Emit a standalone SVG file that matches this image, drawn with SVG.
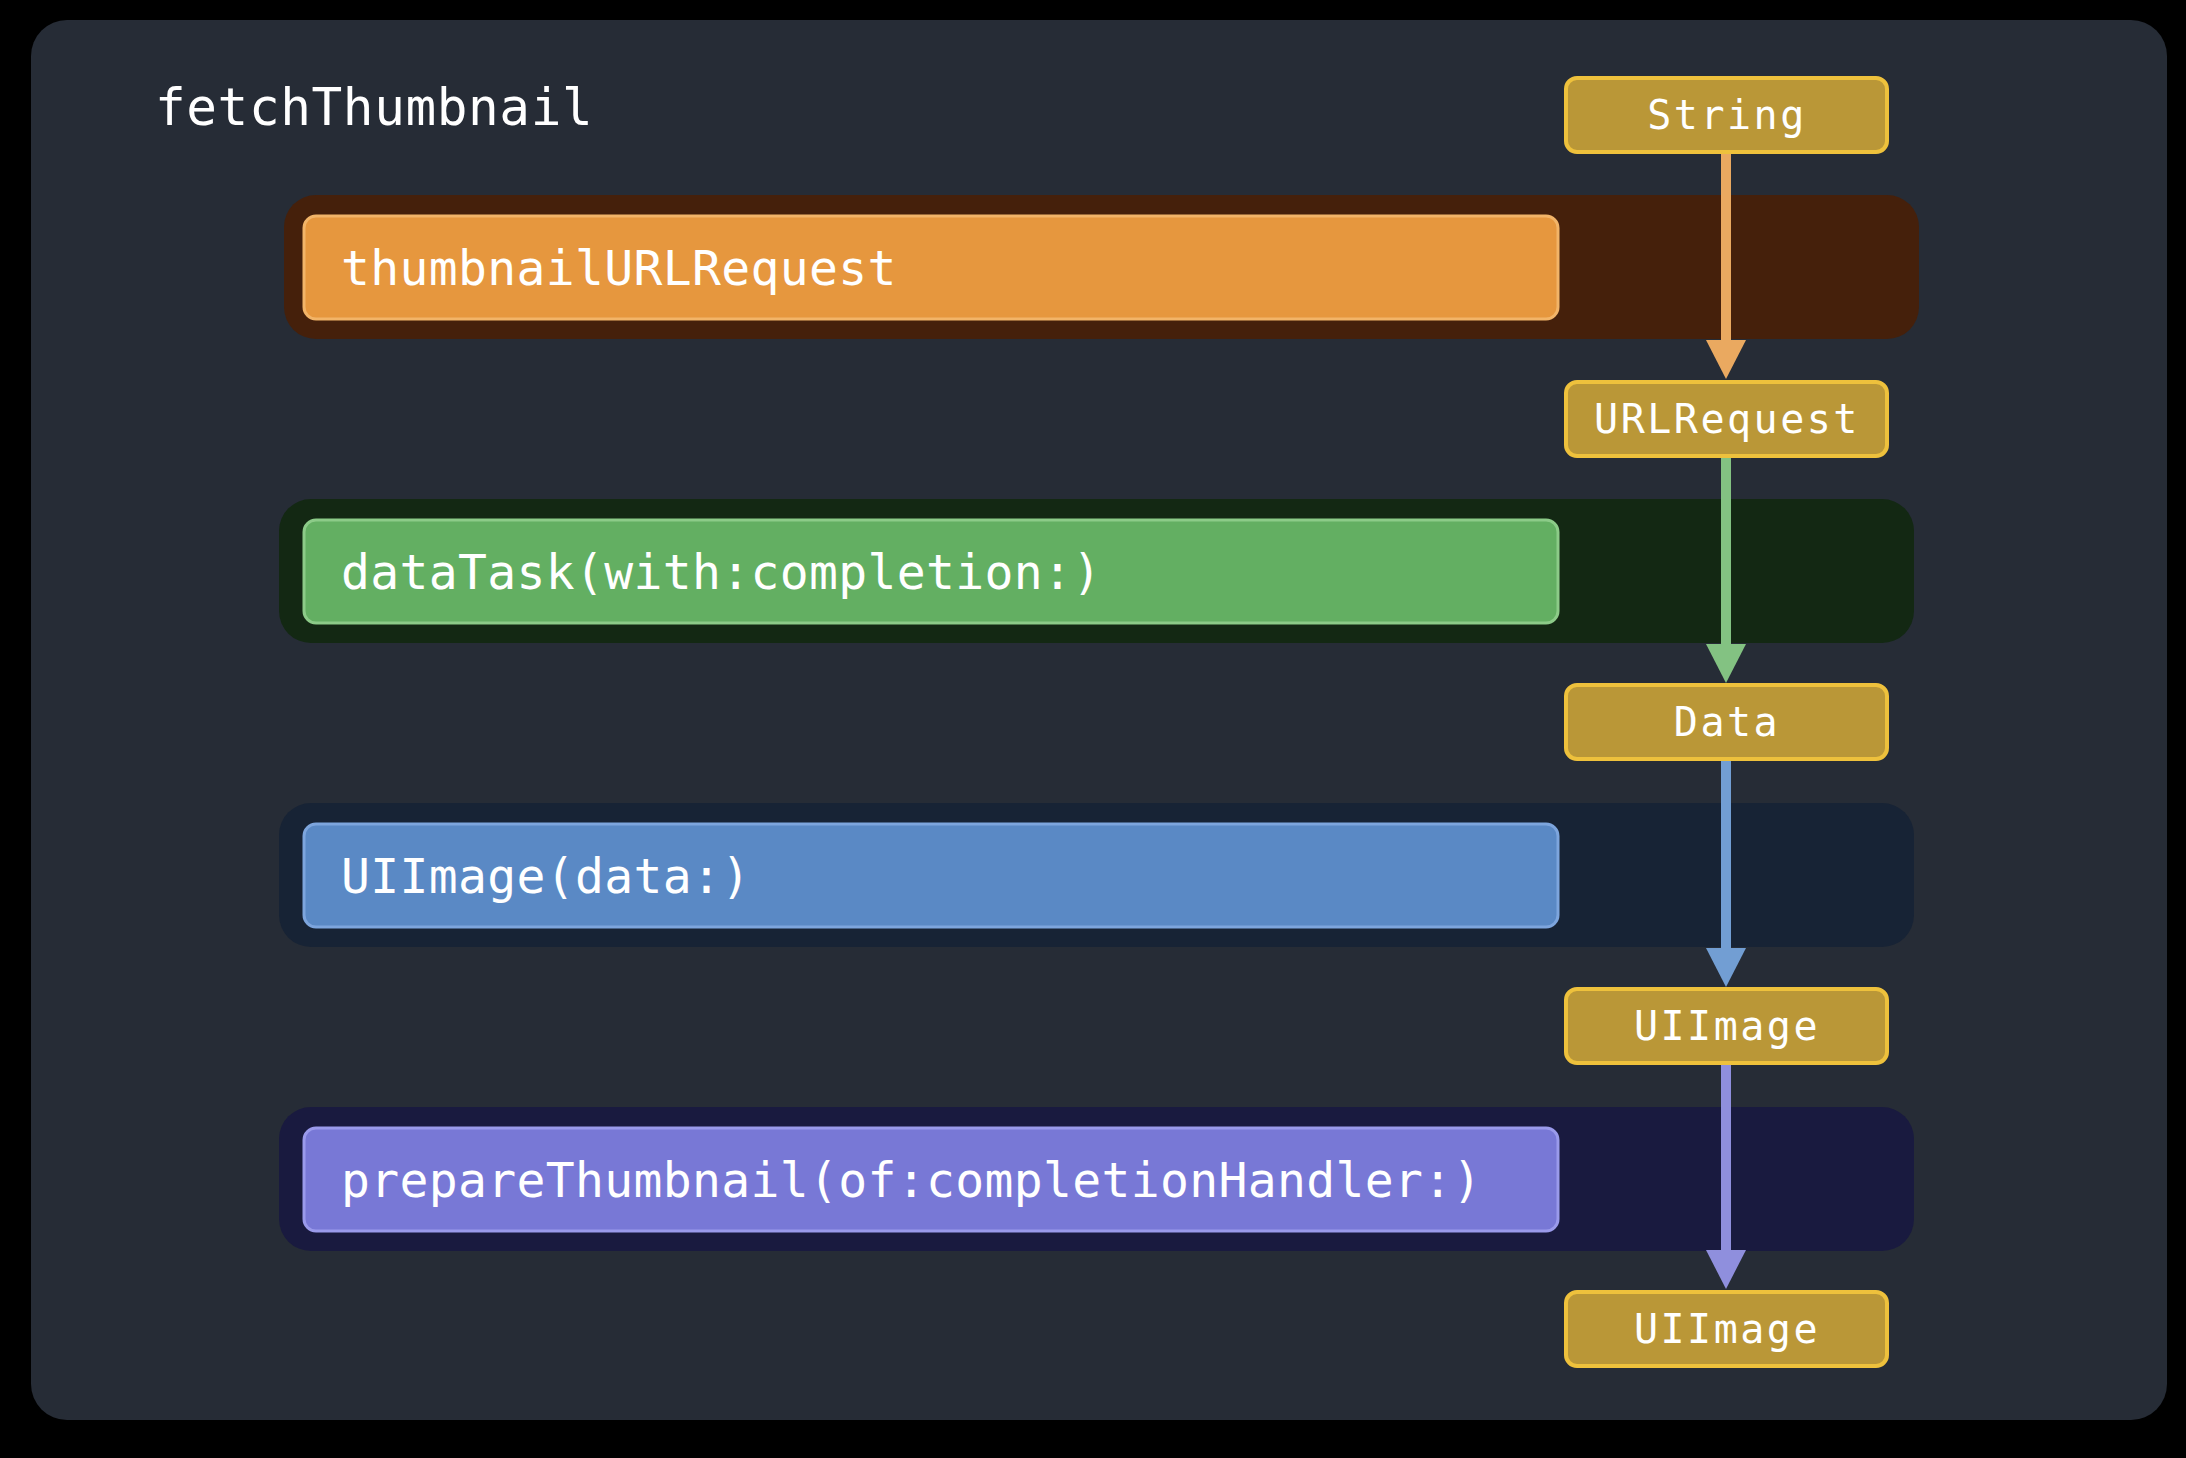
<svg xmlns="http://www.w3.org/2000/svg" width="2186" height="1458" viewBox="0 0 2186 1458">
<style>
.mono{font-family:"DejaVu Sans Mono","Liberation Mono",monospace;fill:#ffffff}
.title{font-size:51px;letter-spacing:0.6px}
.fn{font-size:48px;letter-spacing:0.35px}
.ty{font-size:40px;letter-spacing:2.5px;text-anchor:middle}
.tbox{fill:#BA9737;stroke:#EEC13C;stroke-width:4}
.conn{stroke-width:10;fill:none}
</style>
<rect x="0" y="0" width="2186" height="1458" fill="#000000"/>
<rect x="31" y="20" width="2136" height="1400" rx="36" fill="#262C36"/>
<text class="mono title" x="155" y="125">fetchThumbnail</text>

<g id="band-thumbnailURLRequest">
<rect x="284" y="195" width="1635" height="144" rx="32" fill="#45200B"/>
<rect x="304" y="216" width="1254" height="103" rx="12" fill="#E6973E" stroke="#F2B468" stroke-width="3"/>
<text class="mono fn" x="341" y="285">thumbnailURLRequest</text>
</g>
<g id="band-dataTask">
<rect x="279" y="499" width="1635" height="144" rx="32" fill="#132813"/>
<rect x="304" y="520" width="1254" height="103" rx="12" fill="#63AF62" stroke="#8CCB88" stroke-width="3"/>
<text class="mono fn" x="341" y="589">dataTask(with:completion:)</text>
</g>
<g id="band-UIImageData">
<rect x="279" y="803" width="1635" height="144" rx="32" fill="#172335"/>
<rect x="304" y="824" width="1254" height="103" rx="12" fill="#5A89C5" stroke="#7DA5DD" stroke-width="3"/>
<text class="mono fn" x="341" y="893">UIImage(data:)</text>
</g>
<g id="band-prepareThumbnail">
<rect x="279" y="1107" width="1635" height="144" rx="32" fill="#191A3F"/>
<rect x="304" y="1128" width="1254" height="103" rx="12" fill="#7878D6" stroke="#9A9AEB" stroke-width="3"/>
<text class="mono fn" x="341" y="1197">prepareThumbnail(of:completionHandler:)</text>
</g>

<g id="connectors">
<line class="conn" x1="1726" y1="152" x2="1726" y2="342" stroke="#EAA960"/>
<path d="M1706,340 L1746,340 L1726,379 Z" fill="#EAA960"/>
<line class="conn" x1="1726" y1="456" x2="1726" y2="646" stroke="#83C282"/>
<path d="M1706,644 L1746,644 L1726,683 Z" fill="#83C282"/>
<line class="conn" x1="1726" y1="759" x2="1726" y2="950" stroke="#729ED3"/>
<path d="M1706,948 L1746,948 L1726,987 Z" fill="#729ED3"/>
<line class="conn" x1="1726" y1="1063" x2="1726" y2="1252" stroke="#8F8FDD"/>
<path d="M1706,1250 L1746,1250 L1726,1289 Z" fill="#8F8FDD"/>
</g>

<g id="type-String">
<rect class="tbox" x="1566" y="78" width="321" height="74" rx="11"/>
<text class="mono ty" x="1727" y="129">String</text>
</g>
<g id="type-URLRequest">
<rect class="tbox" x="1566" y="382" width="321" height="74" rx="11"/>
<text class="mono ty" x="1727" y="433">URLRequest</text>
</g>
<g id="type-Data">
<rect class="tbox" x="1566" y="685" width="321" height="74" rx="11"/>
<text class="mono ty" x="1727" y="736">Data</text>
</g>
<g id="type-UIImage1">
<rect class="tbox" x="1566" y="989" width="321" height="74" rx="11"/>
<text class="mono ty" x="1727" y="1040">UIImage</text>
</g>
<g id="type-UIImage2">
<rect class="tbox" x="1566" y="1292" width="321" height="74" rx="11"/>
<text class="mono ty" x="1727" y="1343">UIImage</text>
</g>
</svg>
